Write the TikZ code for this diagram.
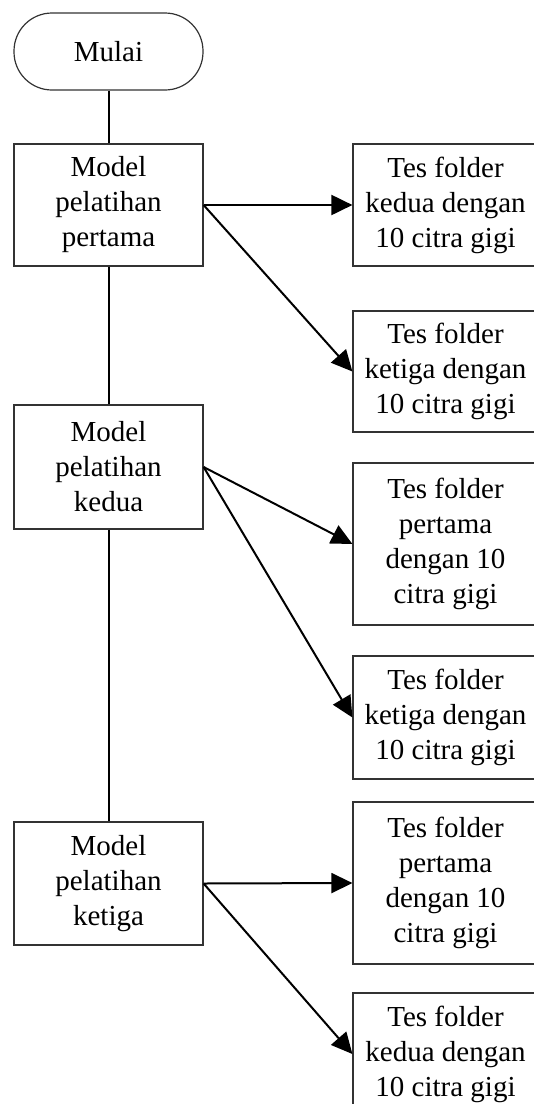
\documentclass[tikz,border=0pt]{standalone}
\usepackage{fontspec}
\setmainfont{Liberation Serif}
\usetikzlibrary{arrows.meta}

\tikzset{
    kotak/.style={draw=black!80, line width=1.2pt, rectangle, align=center, inner sep=0pt,
        font=\fontsize{29}{35}\selectfont},
    garis/.style={line width=2pt},
    panah/.style={line width=2pt, -{Triangle[length=21pt,width=20pt]}}
}

\begin{document}
\begin{tikzpicture}[x=1pt,y=-1pt]

            \useasboundingbox (0,0) rectangle (534,1104);

            \node[kotak, rounded corners=38pt, minimum width=189pt, minimum height=77pt] (mulai) at (108.5,51.5) {Mulai};

            \node[kotak, minimum width=189pt, minimum height=122pt] (m1) at (108.5,205) {Model\\pelatihan\\pertama};
            \node[kotak, minimum width=189pt, minimum height=124pt] (m2) at (108.5,467) {Model\\pelatihan\\kedua};
            \node[kotak, minimum width=189pt, minimum height=123pt] (m3) at (108.5,883.5) {Model\\pelatihan\\ketiga};

            \node[kotak, minimum width=185pt, minimum height=122pt] (t1) at (445.5,205) {Tes folder\\kedua dengan\\10 citra gigi};
            \node[kotak, minimum width=185pt, minimum height=121pt] (t2) at (445.5,371.5) {Tes folder\\ketiga dengan\\10 citra gigi};
            \node[kotak, minimum width=185pt, minimum height=162pt] (t3) at (445.5,544) {Tes folder\\pertama\\dengan 10\\citra gigi};
            \node[kotak, minimum width=185pt, minimum height=123pt] (t4) at (445.5,717.5) {Tes folder\\ketiga dengan\\10 citra gigi};
            \node[kotak, minimum width=185pt, minimum height=162pt] (t5) at (445.5,883) {Tes folder\\pertama\\dengan 10\\citra gigi};
            \node[kotak, minimum width=185pt, minimum height=122pt] (t6) at (445.5,1054) {Tes folder\\kedua dengan\\10 citra gigi};

            \draw[garis] (mulai.south) -- (m1.north);
            \draw[garis] (m1.south) -- (m2.north);
            \draw[garis] (m2.south) -- (m3.north);

            \foreach \m/\a/\b in {m1/t1/t2, m2/t3/t4, m3/t5/t6} {
                \draw[panah] (\m.east) -- (\a.west);
                \draw[panah] (\m.east) -- (\b.west);
            }
        \end{tikzpicture}
\end{document}
